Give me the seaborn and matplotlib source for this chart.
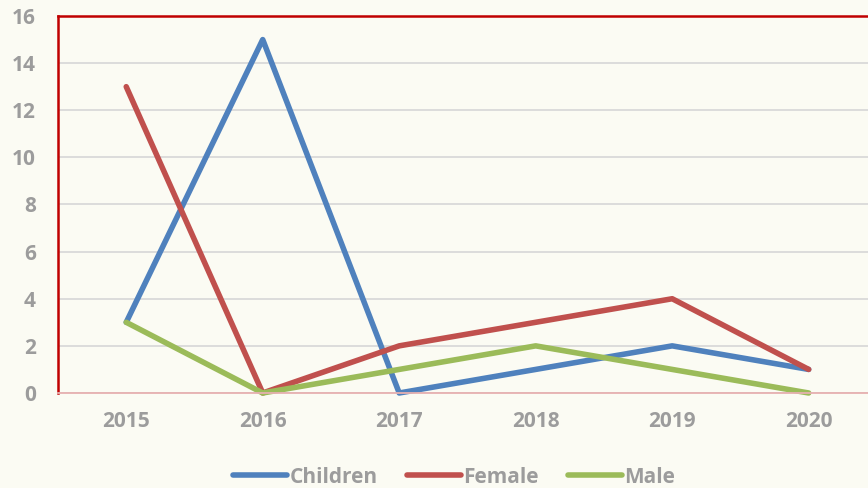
import pandas as pd
import numpy as np
import matplotlib.pyplot as plt
import seaborn as sns

# DATA

years = ["2015", "2016", "2017", "2018", "2019", "2020"]
children = [3, 15, 0, 1, 2, 1]
female = [13, 0, 2, 3, 4, 1]
male = [3, 0, 1, 2, 1, 0]

df = pd.DataFrame({
    "pos": list(range(len(years))) * 3,
    "value": children + female + male,
    "group": ["Children"] * 6 + ["Female"] * 6 + ["Male"] * 6,
})

palette = {"Children": "#4F81BD", "Female": "#C0504D", "Male": "#9BBB59"}
bg = "#FBFBF3"
grey = "#9C9C9C"

sns.set_style("white")
plt.rcParams["font.family"] = ["Open Sans", "DejaVu Sans"]

fig = plt.figure(figsize=(8.68, 4.88), dpi=100, facecolor=bg)
ax = fig.add_axes([0.0668, 0.1947, 0.9435, 0.7725], facecolor=bg)

sns.lineplot(
    data=df, x="pos", y="value", hue="group",
    palette=palette, linewidth=4.0, ax=ax,
    solid_capstyle="round", solid_joinstyle="round",
)
for ln in ax.lines:
    ln.set_clip_on(False)

ax.set_xlim(-0.5, 5.5)
ax.set_ylim(0, 16)
ax.set_yticks(range(0, 17, 2))
ax.set_xticks(range(len(years)))
ax.set_xticklabels(years)
ax.yaxis.grid(True, color="#D9D9D9", linewidth=1.3)
ax.set_axisbelow(True)
ax.tick_params(length=0, labelsize=15, labelcolor=grey)
ax.tick_params(axis="y", pad=16)
ax.tick_params(axis="x", pad=13)
for t in ax.get_xticklabels() + ax.get_yticklabels():
    t.set_fontweight("bold")
ax.set_xlabel("")
ax.set_ylabel("")

for s in ["top", "left"]:
    ax.spines[s].set_color("#C00000")
    ax.spines[s].set_linewidth(1.8)
ax.spines["right"].set_visible(False)
ax.spines["bottom"].set_color("#E6B0B0")
ax.spines["bottom"].set_linewidth(1.3)

leg = ax.legend(
    loc="center", bbox_to_anchor=(0.523, 0.022), bbox_transform=fig.transFigure,
    ncol=3, frameon=False, prop={"size": 15, "weight": "bold"},
    handlelength=2.6, handletextpad=0.1, columnspacing=1.4,
)
for t in leg.get_texts():
    t.set_color(grey)
for h in leg.get_lines():
    h.set_linewidth(4.0)

fig.savefig("out.png", dpi=100, facecolor=bg)
